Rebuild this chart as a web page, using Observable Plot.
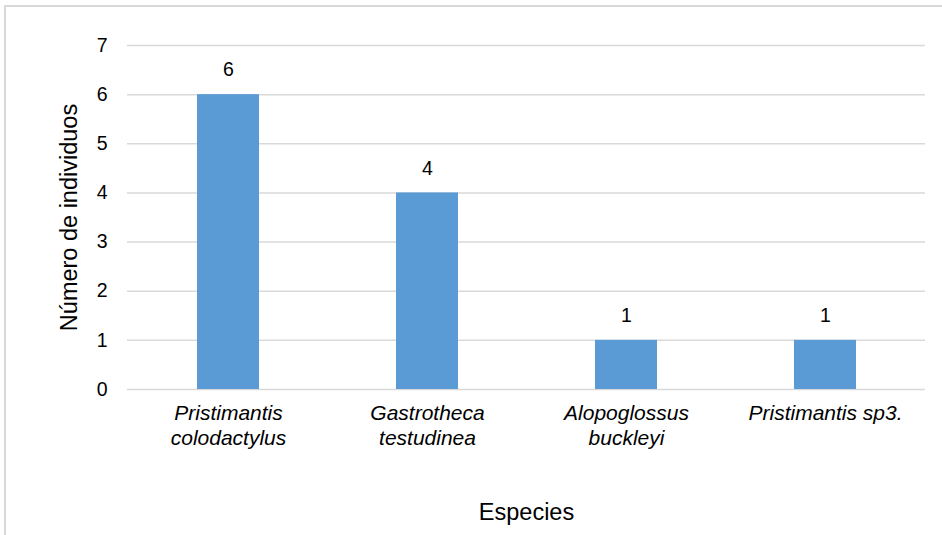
<!DOCTYPE html>
<html>
<head>
<meta charset="utf-8">
<script src="https://cdn.jsdelivr.net/npm/d3@7"></script>
<script src="https://cdn.jsdelivr.net/npm/@observablehq/plot@0.6"></script>
<style>
  html, body { margin: 0; padding: 0; background: #fff; }
  #wrap { position: relative; width: 942px; height: 535px; overflow: hidden; }
  #frame { position: absolute; left: 4px; top: 5px; width: 960px; height: 560px;
           border-left: 2px solid #d9d9d9; border-top: 2px solid #d9d9d9; box-sizing: border-box; }
  #chart { position: absolute; left: 0; top: 0; }
  #chart g[aria-label="x-axis tick label"] text { font-style: italic; }
</style>
</head>
<body>
<div id="wrap"><div id="frame"></div><div id="chart"></div></div>
<script>
const categories = ["Pristimantis colodactylus", "Gastrotheca testudinea", "Alopoglossus buckleyi", "Pristimantis sp3."];
const tickLabels = ["Pristimantis\ncolodactylus", "Gastrotheca\ntestudinea", "Alopoglossus\nbuckleyi", "Pristimantis sp3."];
const values = [6, 4, 1, 1];
const yTicks = [0, 1, 2, 3, 4, 5, 6, 7];
const yTitle = "Número de individuos";
const xTitle = "Especies";

const data = categories.map((c, i) => ({species: c, n: values[i]}));
const labelOf = new Map(categories.map((c, i) => [c, tickLabels[i]]));

const chart = Plot.plot({
  width: 942,
  height: 535,
  marginLeft: 127,
  marginRight: 17,
  marginTop: 45,
  marginBottom: 146,
  style: {fontFamily: "'Liberation Sans', Arial, sans-serif", fontSize: "19px", color: "#000", background: "transparent"},
  x: {domain: categories, paddingInner: 0.69, paddingOuter: 0.345},
  y: {domain: [0, 7]},
  marks: [
    Plot.gridY(yTicks, {stroke: "#d9d9d9", strokeOpacity: 1, strokeWidth: 1.5}),
    Plot.barY(data, {x: "species", y: "n", fill: "#5b9bd5"}),
    Plot.text(data, {x: "species", y: "n", text: d => String(d.n), dy: -24.5, fontSize: 19.5, fill: "#000"}),
    Plot.axisY({ticks: yTicks, tickSize: 0, tickPadding: 20, fontSize: 19.5, tickFormat: d => String(d),
                label: null}),
    Plot.axisY({ticks: [], tickSize: 0, fontSize: 23.5, label: yTitle,
                labelAnchor: "center", labelArrow: "none", labelOffset: 67}),
    Plot.axisX({tickSize: 0, tickPadding: 12, fontSize: 21, lineHeight: 1.21,
                tickFormat: d => labelOf.get(d), label: null}),
    Plot.axisX({ticks: [], tickSize: 0, fontSize: 23.5, label: xTitle,
                labelAnchor: "center", labelArrow: "none", labelOffset: 130})
  ]
});
document.getElementById("chart").appendChild(chart);
</script>
</body>
</html>
